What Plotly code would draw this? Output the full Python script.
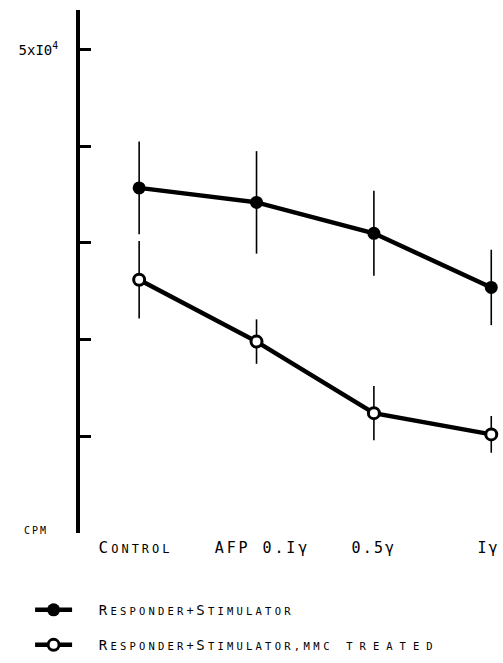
import plotly.graph_objects as go

# Data (CPM)
categories = ["CONTROL", "AFP 0.Iγ", "0.5γ", "Iγ"]
x_pos = [0, 1, 2, 3]
resp_stim = [35700, 34200, 31000, 25400]
resp_stim_err = [4800, 5300, 4400, 3900]
resp_stim_mmc = [26200, 19800, 12400, 10200]
resp_stim_mmc_err = [4000, 2300, 2800, 1900]
y_label_tick = [50000]
y_label_text = ["5xI0<sup>4</sup>"]

FONT = "DejaVu Sans Mono"


def sp(text, size, ls):
    return f"<span style='font-size:{size}px;letter-spacing:{ls}px'>{text}</span>"


def sc(big, small, bs, ss, ls):
    return sp(big, bs, ls) + sp(small, ss, ls)


x_ticktext = [
    sc("C", "ONTROL", 16, 12, 3.0) + sp("&nbsp;", 12, 0),
    sp("&nbsp;AFP 0.Iγ", 15, 2.9),
    sp("0.5γ", 15, 2.2),
    sp("Iγ", 15, 2.0) + sp("&nbsp;", 9, 0),
]

name1 = (sp("&nbsp;&nbsp;&nbsp;", 12, 0) + sc("R", "ESPONDER", 14, 10.5, 3.2)
         + sp("+", 12, 2.5) + sc("S", "TIMULATOR", 14, 10.5, 3.2))
name2 = name1 + sp(",MMC", 10.5, 3.5) + sp(" TREATED", 10.5, 7.0)

fig = go.Figure()
fig.add_trace(go.Scatter(
    x=x_pos, y=resp_stim, mode="lines+markers", name=name1,
    line=dict(color="black", width=4.5),
    marker=dict(symbol="circle", size=13, color="black"),
    error_y=dict(type="data", array=resp_stim_err, color="black", thickness=1.6, width=0),
    legend="legend",
))
fig.add_trace(go.Scatter(
    x=x_pos, y=resp_stim_mmc, mode="lines+markers", name=name2,
    line=dict(color="black", width=4.5),
    marker=dict(symbol="circle", size=11, color="white", line=dict(color="black", width=3)),
    error_y=dict(type="data", array=resp_stim_mmc_err, color="black", thickness=1.6, width=0),
    legend="legend2",
))

fig.update_layout(
    width=503, height=663,
    margin=dict(l=80, r=0, t=10, b=130, autoexpand=False),
    paper_bgcolor="white", plot_bgcolor="white",
    font=dict(family=FONT, color="black", size=13),
    legend=dict(x=-0.118, y=-0.147, xanchor="left", yanchor="middle",
                itemwidth=37, bgcolor="rgba(0,0,0,0)", font=dict(size=13)),
    legend2=dict(x=-0.118, y=-0.214, xanchor="left", yanchor="middle",
                 itemwidth=37, bgcolor="rgba(0,0,0,0)", font=dict(size=13)),
    showlegend=True,
)
fig.update_xaxes(
    range=[-0.504, 3.1], tickvals=x_pos, ticktext=x_ticktext,
    showline=False, showgrid=False, zeroline=False, ticks="",
    ticklabelstandoff=6, ticklabeloverflow="allow", automargin=False, fixedrange=True,
)
fig.update_yaxes(
    range=[0, 54100], tickvals=y_label_tick, ticktext=y_label_text,
    showline=True, linecolor="black", linewidth=4,
    ticks="inside", ticklen=11, tickwidth=3, tickcolor="black",
    minor=dict(tick0=0, dtick=10000, ticks="inside", ticklen=11, tickwidth=3, tickcolor="black"),
    showgrid=False, zeroline=False, ticklabelstandoff=15, automargin=False,
    tickfont=dict(size=14),
)
fig.add_annotation(x=(22 - 80) / 423, y=(533 - 530) / 523, xref="paper", yref="paper",
                   text=sp("CPM", 10, 2), showarrow=False, xanchor="left", yanchor="middle")

fig.write_html("out.html", config={"displayModeBar": False},
               post_script="document.body.style.margin='0';document.body.style.overflow='hidden';")
